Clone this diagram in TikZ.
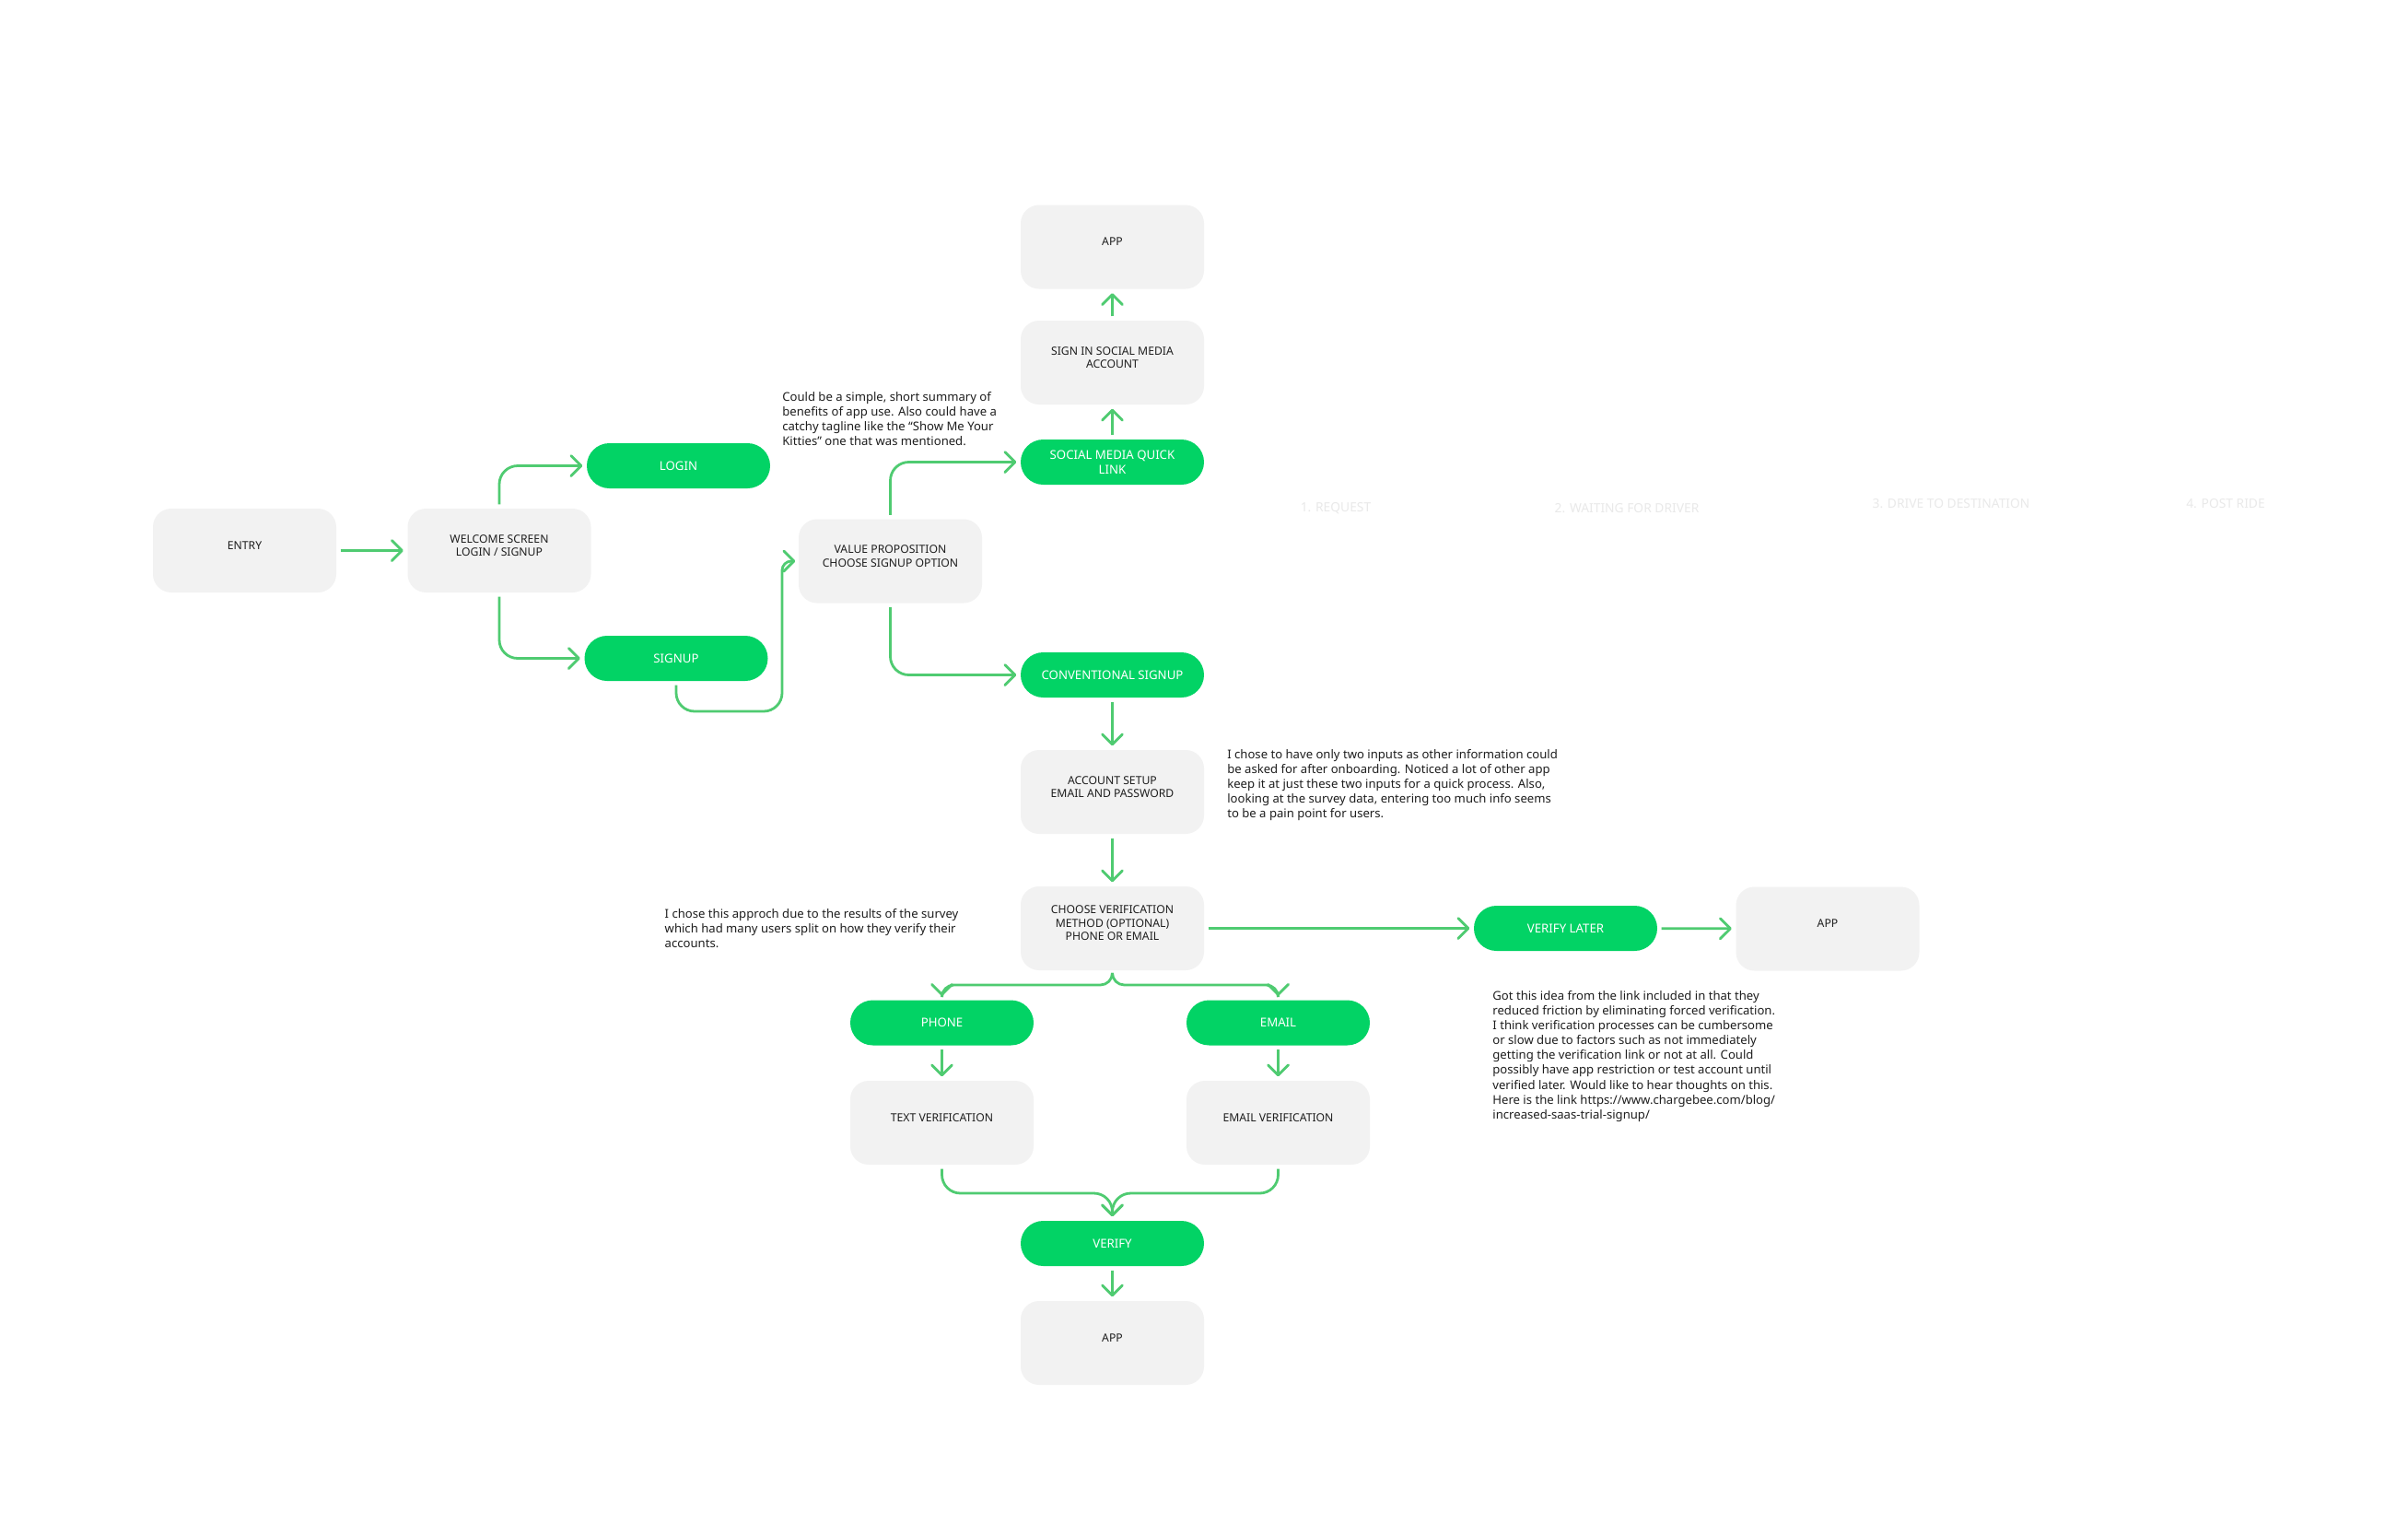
\documentclass[tikz,border=0pt]{standalone}
\usepackage{fontspec}
\setmainfont{Noto Sans}
\usetikzlibrary{arrows.meta}

\definecolor{boxgray}{HTML}{F2F2F2}
\definecolor{pillgreen}{HTML}{02D365}
\definecolor{flowgreen}{HTML}{4FCB71}
\definecolor{inktext}{HTML}{1E1E1E}
\definecolor{fadedtext}{HTML}{E9E9E9}

\newcommand{\scrfont}{\fontsize{3.47}{4.15}\selectfont}
\newcommand{\btnfont}{\fontsize{3.76}{4.57}\selectfont}
\newcommand{\remfont}{\fontsize{3.73}{4.58}\selectfont}
\newcommand{\phasefont}{\fontsize{3.93}{4.7}\selectfont}

\tikzset{
  screen/.style={rectangle, rounded corners=0.2cm, fill=boxgray, minimum width=1.99cm, minimum height=0.91cm, inner sep=0pt, label={[scrlabel]center:#1}},
  scrlabel/.style={font=\scrfont, text=inktext, align=center, inner sep=0pt, yshift=0.055cm},
  action/.style={rectangle, rounded corners=0.245cm, fill=pillgreen, minimum width=1.99cm, minimum height=0.49cm, inner sep=0pt, font=\btnfont, text=white, align=center},
  flow/.style={draw=flowgreen, line width=0.028cm, rounded corners=0.2cm, shorten <=0.04cm, shorten >=0.04cm, -{Straight Barb[length=0.11cm, width=0.22cm, round]}},
  remark/.style={anchor=north west, inner sep=0pt, align=left, font=\remfont, text=inktext},
  phase/.style={font=\phasefont, text=fadedtext, inner sep=0pt}
}

\begin{document}
\begin{tikzpicture}
        \fill[white] (0,0) rectangle (26.14,-16.53);
        \useasboundingbox (0,0) rectangle (26.14,-16.53);

        % screens and actions
        \node[screen=ENTRY] (entry) at (2.655,-5.975) {};
        \node[screen=WELCOME SCREEN\\LOGIN / SIGNUP] (welcome) at (5.42,-5.975) {};
        \node[action] (login) at (7.365,-5.055) {LOGIN};
        \node[action] (signup) at (7.34,-7.145) {SIGNUP};
        \node[screen=VALUE PROPOSITION\\CHOOSE SIGNUP OPTION] (value) at (9.665,-6.09) {};
        \node[action] (social) at (12.075,-5.015) {SOCIAL MEDIA QUICK\\LINK};
        \node[screen=SIGN IN SOCIAL MEDIA\\ACCOUNT] (signin) at (12.075,-3.935) {};
        \node[screen=APP] (apptop) at (12.075,-2.68) {};
        \node[action] (conventional) at (12.075,-7.325) {CONVENTIONAL SIGNUP};
        \node[screen=ACCOUNT SETUP\\EMAIL AND PASSWORD] (account) at (12.075,-8.595) {};
        \node[screen=CHOOSE VERIFICATION\\METHOD (OPTIONAL)\\PHONE OR EMAIL] (choose) at (12.075,-10.075) {};
        \node[action] (verifylater) at (16.995,-10.075) {VERIFY LATER};
        \node[screen=APP] (appright) at (19.84,-10.08) {};
        \node[action] (phone) at (10.225,-11.10) {PHONE};
        \node[action] (email) at (13.875,-11.10) {EMAIL};
        \node[screen=TEXT VERIFICATION] (textver) at (10.225,-12.185) {};
        \node[screen=EMAIL VERIFICATION] (emailver) at (13.875,-12.185) {};
        \node[action] (verify) at (12.075,-13.495) {VERIFY};
        \node[screen=APP] (appbottom) at (12.075,-14.575) {};

        % remarks
        \node[remark] (valuenote) at (8.486,-4.243) {Could be a simple, short summary of\\benefits of app use. Also could have a\\catchy tagline like the “Show Me Your\\Kitties” one that was mentioned.};
        \node[remark] (accountnote) at (13.316,-8.127) {I chose to have only two inputs as other information could\\be asked for after onboarding. Noticed a lot of other app\\keep it at just these two inputs for a quick process. Also,\\looking at the survey data, entering too much info seems\\to be a pain point for users.};
        \node[remark] (choosenote) at (7.21,-9.854) {I chose this approch due to the results of the survey\\which had many users split on how they verify their\\accounts.};
        \node[remark] (laternote) at (16.197,-10.747) {Got this idea from the link included in that they\\reduced friction by eliminating forced verification.\\I think verification processes can be cumbersome\\or slow due to factors such as not immediately\\getting the verification link or not at all. Could\\possibly have app restriction or test account until\\verified later. Would like to hear thoughts on this.\\Here is the link https://www.chargebee.com/blog/\\increased-saas-trial-signup/};

        % faded stage titles
        \node[phase] (stage1) at (14.50,-5.52) {1. REQUEST};
        \node[phase] (stage2) at (17.66,-5.52) {2. WAITING FOR DRIVER};
        \node[phase] (stage3) at (21.18,-5.47) {3. DRIVE TO DESTINATION};
        \node[phase] (stage4) at (24.16,-5.47) {4. POST RIDE};

        % connectors
        \coordinate (sgturn) at (8.49,-7.72);
        \coordinate (forkpt) at (12.075,-10.69);
        \coordinate (mergept) at (12.075,-12.95);

        \draw[flow] (entry) -- (welcome);
        \draw[flow] (welcome.north) |- (login.west);
        \draw[flow] (welcome.south) |- (signup.west);
        \draw[flow, shorten >=0.03cm] (signup.south) |- (sgturn) [rounded corners=0.1cm] |- (value.west);
        \draw[flow] (value.north) |- (social.west);
        \draw[flow] (value.south) |- (conventional.west);
        \draw[flow] (social) -- (signin);
        \draw[flow] (signin) -- (apptop);
        \draw[flow] (conventional) -- (account);
        \draw[flow] (account) -- (choose);
        \draw[flow] (choose) -- (verifylater);
        \draw[flow] (verifylater) -- (appright);
        \draw[flow, rounded corners=0.13cm] (choose.south) -- (forkpt) -| (phone.north);
        \draw[flow, rounded corners=0.13cm] (choose.south) -- (forkpt) -| (email.north);
        \draw[flow] (phone) -- (textver);
        \draw[flow] (email) -- (emailver);
        \draw[flow] (textver.south) |- (mergept) -- (verify.north);
        \draw[flow] (emailver.south) |- (mergept) -- (verify.north);
        \draw[flow] (verify) -- (appbottom);
    \end{tikzpicture}
\end{document}
